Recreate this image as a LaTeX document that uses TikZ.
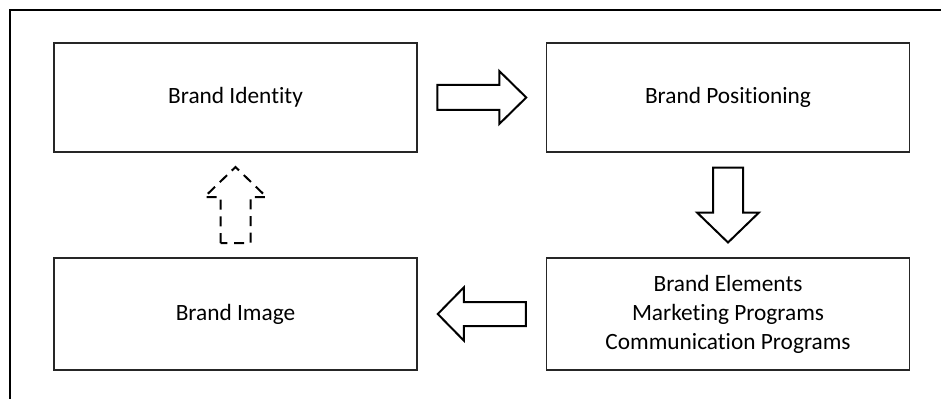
\documentclass[tikz,border=0pt]{standalone}
\usepackage{fontspec}
\setmainfont{Carlito}[Ligatures=NoCommon]
\usetikzlibrary{calc}
\begin{document}
\begin{tikzpicture}[x=0.75pt,y=-0.75pt,
  box/.style={draw=black!85, line width=1pt, fill=white, inner sep=0pt,
    minimum width=272.25pt, align=center,
    font=\fontsize{17.5pt}{21.75pt}\selectfont},
  topbox/.style={box, minimum height=81.75pt},
  lowbox/.style={box, minimum height=84pt},
  frameline/.style={line width=2pt, black},
  arrowline/.style={draw=black, line width=1.5pt, line join=miter, fill=white},
  dashedarrow/.style={arrowline, dash pattern=on 7.5pt off 5pt},
  pics/blockarrow/.style n args={4}{code={
    % length, tail half width, head half width, head length
    \draw[pic actions] (-#1/2,-#2) -- (#1/2-#4,-#2) -- (#1/2-#4,-#3) -- (#1/2,0)
      -- (#1/2-#4,#3) -- (#1/2-#4,#2) -- (-#1/2,#2) -- cycle;
  }}]
\useasboundingbox (0,0) rectangle (941,399);
\clip (0,0) rectangle (941,399);

% open frame running off the right and bottom edges
\coordinate (fbl) at (10,399);
\coordinate (ftl) at (10,10);
\coordinate (ftr) at (941,10);
\draw[frameline] (fbl) -- (ftl) -- (ftr);

% the four stages
\node[topbox] (identity) at (235.5,97.5) {Brand Identity};
\node[topbox] (positioning) at (728,97.5) {Brand Positioning};
\node[lowbox] (elements) at (728,314) {Brand Elements\\Marketing Programs\\Communication Programs};
\node[lowbox] (image) at (235.5,314) {Brand Image};

% block arrows placed midway between neighbouring boxes
\coordinate (m12) at ($(identity.east)!0.5!(positioning.west)$);
\coordinate (m23) at ($(positioning.south)!0.5!(elements.north)$);
\coordinate (m34) at ($(elements.west)!0.5!(image.east)$);
\coordinate (m41) at ($(image.north)!0.5!(identity.south)$);

\pic[arrowline] at (m12) {blockarrow={89}{12.5}{26.5}{27}};
\pic[arrowline, rotate=-90] at (m23) {blockarrow={75}{15}{31}{30}};
\pic[arrowline, rotate=180] at (m34) {blockarrow={88}{12}{26.5}{26}};
\pic[dashedarrow, rotate=90] at (m41) {blockarrow={76}{15}{31}{30}};
\end{tikzpicture}
\end{document}
